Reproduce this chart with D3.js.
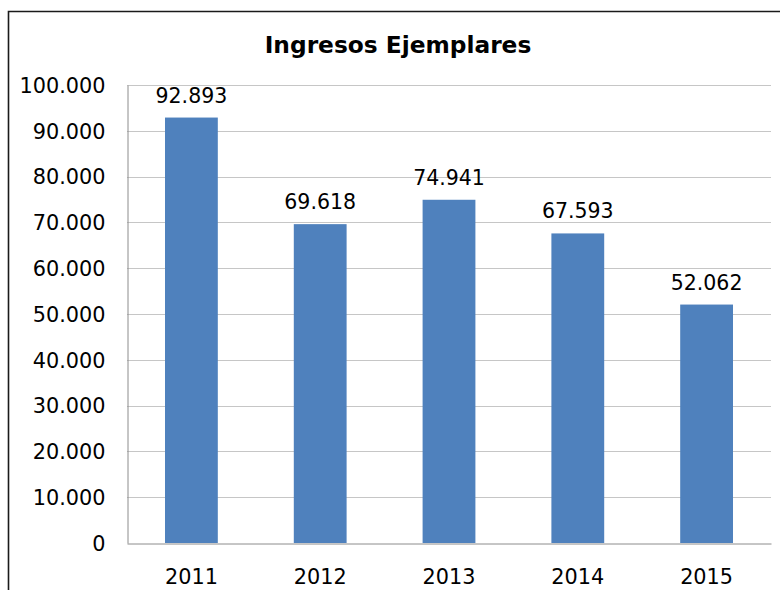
<!DOCTYPE html>
<html>
<head>
<meta charset="utf-8">
<script src="https://cdn.jsdelivr.net/npm/d3@7"></script>
<style>
  body { margin: 0; background: #fff; }
  svg text { font-family: "DejaVu Sans", sans-serif; fill: #000; }
</style>
</head>
<body>
<div id="chart"></div>
<script>
// data
const years = ['2011', '2012', '2013', '2014', '2015'];
const ingresos = [92893, 69618, 74941, 67593, 52062];
const yTicks = [0, 10000, 20000, 30000, 40000, 50000, 60000, 70000, 80000, 90000, 100000];

const width = 780;
const height = 590;
const margin = {top: 85, right: 9, bottom: 47, left: 127};

const svg = d3.select('#chart')
  .append('svg')
  .attr('width', width)
  .attr('height', height);

// chart frame (only left and top visible)
svg.append('path')
  .attr('d', 'M8.5,600 V11.5 H790')
  .attr('fill', 'none')
  .attr('stroke', '#1a1a1a')
  .attr('stroke-width', 1.6);

const fmt = d3.formatLocale({decimal: ',', thousands: '.', grouping: [3], currency: ['', '']}).format(',d');

const x = d3.scaleBand()
  .domain(years)
  .range([margin.left, width - margin.right])
  .padding(0);

const y = d3.scaleLinear()
  .domain([0, 100000])
  .range([height - margin.bottom, margin.top]);

// gridlines
svg.append('g')
  .selectAll('line')
  .data(yTicks.slice(1))
  .enter().append('line')
  .attr('x1', margin.left)
  .attr('x2', width - margin.right)
  .attr('y1', d => Math.round(y(d)) + 0.5)
  .attr('y2', d => Math.round(y(d)) + 0.5)
  .attr('stroke', '#c6c6c6')
  .attr('stroke-width', 1);

// bars
const barW = x.bandwidth() * 0.41;
svg.append('g')
  .selectAll('rect')
  .data(ingresos)
  .enter().append('rect')
  .attr('x', (d, i) => x(years[i]) + (x.bandwidth() - barW) / 2)
  .attr('y', d => y(d))
  .attr('width', barW)
  .attr('height', d => y(0) - y(d))
  .attr('fill', '#4f81bd');

// value labels
svg.append('g')
  .selectAll('text')
  .data(ingresos)
  .enter().append('text')
  .attr('x', (d, i) => x(years[i]) + x.bandwidth() / 2)
  .attr('y', d => y(d) - 15)
  .attr('text-anchor', 'middle')
  .attr('font-size', 20.5)
  .text(d => fmt(d));

// y axis
const yAxis = svg.append('g')
  .attr('transform', `translate(${margin.left + 0.5},0)`)
  .call(d3.axisLeft(y).tickValues(yTicks).tickFormat(fmt).tickSize(0).tickPadding(22));
yAxis.select('.domain').attr('stroke', '#8c8c8c');
yAxis.selectAll('text')
  .attr('font-size', 20.8)
  .attr('font-family', '"DejaVu Sans", sans-serif')
  .attr('dy', '0.35em');

// x axis
const xAxis = svg.append('g')
  .attr('transform', `translate(0,${Math.round(y(0)) + 0.5})`)
  .call(d3.axisBottom(x).tickSize(0).tickPadding(26));
xAxis.select('.domain').attr('stroke', '#8c8c8c');
xAxis.selectAll('text')
  .attr('font-size', 20.8)
  .attr('font-family', '"DejaVu Sans", sans-serif');

// title
svg.append('text')
  .attr('x', 398)
  .attr('y', 53)
  .attr('text-anchor', 'middle')
  .attr('font-size', 23.3)
  .attr('font-weight', 'bold')
  .text('Ingresos Ejemplares');
</script>
</body>
</html>
